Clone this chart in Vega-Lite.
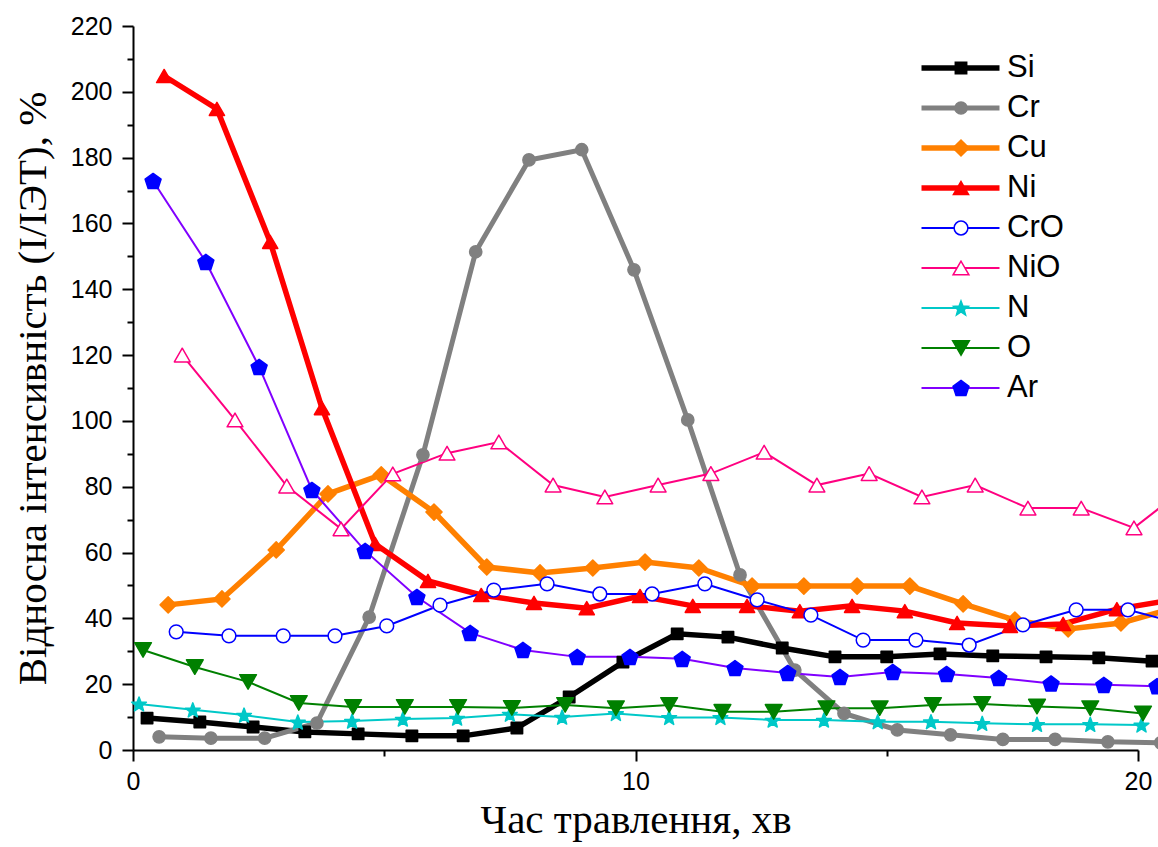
{
  "$schema": "https://vega.github.io/schema/vega-lite/v6.json",
  "width": 1005,
  "height": 724,
  "autosize": {"type": "none"},
  "padding": {"left": 133, "top": 26, "right": 20, "bottom": 97},
  "background": "white",
  "config": {
    "view": {"stroke": null},
    "font": "Liberation Sans",
    "axis": {
      "grid": false,
      "domainColor": "black",
      "domainWidth": 2,
      "tickColor": "black",
      "tickWidth": 2,
      "labelFont": "Liberation Sans",
      "labelFontSize": 25,
      "labelColor": "black",
      "titleFont": "Liberation Serif",
      "titleFontWeight": "normal",
      "titleColor": "black"
    },
    "legend": {
      "labelFont": "Liberation Sans",
      "labelFontSize": 31,
      "labelColor": "black",
      "padding": 0,
      "rowPadding": 8,
      "clipHeight": 29,
      "symbolStrokeWidth": 1.5
    }
  },
  "data": {
    "values": [
      {"series": "Si", "time": 0.28, "value": 9.7},
      {"series": "Si", "time": 1.33, "value": 8.5},
      {"series": "Si", "time": 2.39, "value": 7.0},
      {"series": "Si", "time": 3.42, "value": 5.5},
      {"series": "Si", "time": 4.48, "value": 4.9},
      {"series": "Si", "time": 5.55, "value": 4.3},
      {"series": "Si", "time": 6.57, "value": 4.3},
      {"series": "Si", "time": 7.64, "value": 6.7},
      {"series": "Si", "time": 8.68, "value": 16.1},
      {"series": "Si", "time": 9.75, "value": 26.7},
      {"series": "Si", "time": 10.83, "value": 35.3},
      {"series": "Si", "time": 11.84, "value": 34.3},
      {"series": "Si", "time": 12.92, "value": 31.0},
      {"series": "Si", "time": 13.97, "value": 28.3},
      {"series": "Si", "time": 15.0, "value": 28.3},
      {"series": "Si", "time": 16.06, "value": 29.2},
      {"series": "Si", "time": 17.11, "value": 28.6},
      {"series": "Si", "time": 18.17, "value": 28.3},
      {"series": "Si", "time": 19.22, "value": 28.0},
      {"series": "Si", "time": 20.28, "value": 27.0},

      {"series": "Cr", "time": 0.52, "value": 4.0},
      {"series": "Cr", "time": 1.55, "value": 3.6},
      {"series": "Cr", "time": 2.62, "value": 3.6},
      {"series": "Cr", "time": 3.66, "value": 8.2},
      {"series": "Cr", "time": 4.7, "value": 40.4},
      {"series": "Cr", "time": 5.77, "value": 89.7},
      {"series": "Cr", "time": 6.82, "value": 151.4},
      {"series": "Cr", "time": 7.88, "value": 179.3},
      {"series": "Cr", "time": 8.93, "value": 182.4},
      {"series": "Cr", "time": 9.97, "value": 145.9},
      {"series": "Cr", "time": 11.04, "value": 100.3},
      {"series": "Cr", "time": 12.08, "value": 53.2},
      {"series": "Cr", "time": 13.17, "value": 24.3},
      {"series": "Cr", "time": 14.15, "value": 11.1},
      {"series": "Cr", "time": 15.21, "value": 6.1},
      {"series": "Cr", "time": 16.27, "value": 4.6},
      {"series": "Cr", "time": 17.31, "value": 3.2},
      {"series": "Cr", "time": 18.35, "value": 3.2},
      {"series": "Cr", "time": 19.4, "value": 2.5},
      {"series": "Cr", "time": 20.45, "value": 2.2},

      {"series": "Cu", "time": 0.7, "value": 44.1},
      {"series": "Cu", "time": 1.77, "value": 45.9},
      {"series": "Cu", "time": 2.85, "value": 60.8},
      {"series": "Cu", "time": 3.88, "value": 77.8},
      {"series": "Cu", "time": 4.94, "value": 83.6},
      {"series": "Cu", "time": 5.99, "value": 72.3},
      {"series": "Cu", "time": 7.04, "value": 55.6},
      {"series": "Cu", "time": 8.1, "value": 53.8},
      {"series": "Cu", "time": 9.15, "value": 55.3},
      {"series": "Cu", "time": 10.19, "value": 57.1},
      {"series": "Cu", "time": 11.26, "value": 55.3},
      {"series": "Cu", "time": 12.32, "value": 49.8},
      {"series": "Cu", "time": 13.35, "value": 49.8},
      {"series": "Cu", "time": 14.41, "value": 49.8},
      {"series": "Cu", "time": 15.46, "value": 49.8},
      {"series": "Cu", "time": 16.52, "value": 44.4},
      {"series": "Cu", "time": 17.55, "value": 39.5},
      {"series": "Cu", "time": 18.61, "value": 36.8},
      {"series": "Cu", "time": 19.66, "value": 38.6},
      {"series": "Cu", "time": 20.72, "value": 43.1},

      {"series": "Ni", "time": 0.62, "value": 204.8},
      {"series": "Ni", "time": 1.67, "value": 194.8},
      {"series": "Ni", "time": 2.73, "value": 154.4},
      {"series": "Ni", "time": 3.76, "value": 103.9},
      {"series": "Ni", "time": 4.82, "value": 62.6},
      {"series": "Ni", "time": 5.87, "value": 51.4},
      {"series": "Ni", "time": 6.93, "value": 47.1},
      {"series": "Ni", "time": 7.98, "value": 44.7},
      {"series": "Ni", "time": 9.03, "value": 43.1},
      {"series": "Ni", "time": 10.09, "value": 46.8},
      {"series": "Ni", "time": 11.14, "value": 43.8},
      {"series": "Ni", "time": 12.22, "value": 43.8},
      {"series": "Ni", "time": 13.27, "value": 42.2},
      {"series": "Ni", "time": 14.31, "value": 43.8},
      {"series": "Ni", "time": 15.36, "value": 42.2},
      {"series": "Ni", "time": 16.4, "value": 38.6},
      {"series": "Ni", "time": 17.45, "value": 37.7},
      {"series": "Ni", "time": 18.51, "value": 38.3},
      {"series": "Ni", "time": 19.58, "value": 42.8},
      {"series": "Ni", "time": 20.64, "value": 45.5},

      {"series": "CrO", "time": 0.86, "value": 35.9},
      {"series": "CrO", "time": 1.91, "value": 34.7},
      {"series": "CrO", "time": 2.99, "value": 34.7},
      {"series": "CrO", "time": 4.02, "value": 34.7},
      {"series": "CrO", "time": 5.05, "value": 37.7},
      {"series": "CrO", "time": 6.11, "value": 44.0},
      {"series": "CrO", "time": 7.18, "value": 48.6},
      {"series": "CrO", "time": 8.24, "value": 50.5},
      {"series": "CrO", "time": 9.29, "value": 47.4},
      {"series": "CrO", "time": 10.33, "value": 47.4},
      {"series": "CrO", "time": 11.38, "value": 50.5},
      {"series": "CrO", "time": 12.42, "value": 45.6},
      {"series": "CrO", "time": 13.49, "value": 41.0},
      {"series": "CrO", "time": 14.53, "value": 33.4},
      {"series": "CrO", "time": 15.58, "value": 33.4},
      {"series": "CrO", "time": 16.64, "value": 31.9},
      {"series": "CrO", "time": 17.71, "value": 38.0},
      {"series": "CrO", "time": 18.77, "value": 42.6},
      {"series": "CrO", "time": 19.8, "value": 42.6},
      {"series": "CrO", "time": 20.86, "value": 38.3},

      {"series": "NiO", "time": 0.98, "value": 120.0},
      {"series": "NiO", "time": 2.03, "value": 100.3},
      {"series": "NiO", "time": 3.06, "value": 80.2},
      {"series": "NiO", "time": 4.14, "value": 67.2},
      {"series": "NiO", "time": 5.17, "value": 83.9},
      {"series": "NiO", "time": 6.25, "value": 90.2},
      {"series": "NiO", "time": 7.28, "value": 93.6},
      {"series": "NiO", "time": 8.36, "value": 80.5},
      {"series": "NiO", "time": 9.39, "value": 76.9},
      {"series": "NiO", "time": 10.45, "value": 80.5},
      {"series": "NiO", "time": 11.5, "value": 84.0},
      {"series": "NiO", "time": 12.56, "value": 90.5},
      {"series": "NiO", "time": 13.61, "value": 80.5},
      {"series": "NiO", "time": 14.65, "value": 84.0},
      {"series": "NiO", "time": 15.7, "value": 76.9},
      {"series": "NiO", "time": 16.76, "value": 80.5},
      {"series": "NiO", "time": 17.81, "value": 73.5},
      {"series": "NiO", "time": 18.87, "value": 73.5},
      {"series": "NiO", "time": 19.92, "value": 67.5},
      {"series": "NiO", "time": 20.97, "value": 80.0},

      {"series": "N", "time": 0.12, "value": 14.0},
      {"series": "N", "time": 1.19, "value": 12.2},
      {"series": "N", "time": 2.21, "value": 10.6},
      {"series": "N", "time": 3.28, "value": 8.5},
      {"series": "N", "time": 4.36, "value": 8.8},
      {"series": "N", "time": 5.37, "value": 9.4},
      {"series": "N", "time": 6.45, "value": 9.7},
      {"series": "N", "time": 7.5, "value": 10.9},
      {"series": "N", "time": 8.54, "value": 10.0},
      {"series": "N", "time": 9.61, "value": 11.1},
      {"series": "N", "time": 10.67, "value": 9.9},
      {"series": "N", "time": 11.69, "value": 9.9},
      {"series": "N", "time": 12.73, "value": 9.1},
      {"series": "N", "time": 13.75, "value": 9.1},
      {"series": "N", "time": 14.82, "value": 8.6},
      {"series": "N", "time": 15.88, "value": 8.6},
      {"series": "N", "time": 16.9, "value": 8.1},
      {"series": "N", "time": 17.99, "value": 7.8},
      {"series": "N", "time": 19.05, "value": 7.8},
      {"series": "N", "time": 20.07, "value": 7.6},

      {"series": "O", "time": 0.2, "value": 30.4},
      {"series": "O", "time": 1.23, "value": 25.2},
      {"series": "O", "time": 2.29, "value": 20.7},
      {"series": "O", "time": 3.3, "value": 14.3},
      {"series": "O", "time": 4.38, "value": 13.1},
      {"series": "O", "time": 5.41, "value": 13.1},
      {"series": "O", "time": 6.47, "value": 13.1},
      {"series": "O", "time": 7.54, "value": 12.8},
      {"series": "O", "time": 8.6, "value": 13.7},
      {"series": "O", "time": 9.61, "value": 12.7},
      {"series": "O", "time": 10.67, "value": 13.7},
      {"series": "O", "time": 11.73, "value": 11.6},
      {"series": "O", "time": 12.75, "value": 11.6},
      {"series": "O", "time": 13.8, "value": 12.7},
      {"series": "O", "time": 14.86, "value": 12.7},
      {"series": "O", "time": 15.92, "value": 13.7},
      {"series": "O", "time": 16.9, "value": 14.0},
      {"series": "O", "time": 17.99, "value": 13.2},
      {"series": "O", "time": 19.05, "value": 12.7},
      {"series": "O", "time": 20.1, "value": 11.1},

      {"series": "Ar", "time": 0.4, "value": 172.9},
      {"series": "Ar", "time": 1.45, "value": 148.3},
      {"series": "Ar", "time": 2.51, "value": 116.4},
      {"series": "Ar", "time": 3.56, "value": 79.0},
      {"series": "Ar", "time": 4.62, "value": 60.5},
      {"series": "Ar", "time": 5.65, "value": 46.5},
      {"series": "Ar", "time": 6.71, "value": 35.6},
      {"series": "Ar", "time": 7.76, "value": 30.4},
      {"series": "Ar", "time": 8.84, "value": 28.3},
      {"series": "Ar", "time": 9.89, "value": 28.3},
      {"series": "Ar", "time": 10.93, "value": 27.7},
      {"series": "Ar", "time": 11.98, "value": 24.9},
      {"series": "Ar", "time": 13.03, "value": 23.4},
      {"series": "Ar", "time": 14.07, "value": 22.2},
      {"series": "Ar", "time": 15.12, "value": 23.7},
      {"series": "Ar", "time": 16.19, "value": 23.1},
      {"series": "Ar", "time": 17.23, "value": 21.9},
      {"series": "Ar", "time": 18.27, "value": 20.2},
      {"series": "Ar", "time": 19.32, "value": 19.8},
      {"series": "Ar", "time": 20.38, "value": 19.4}
    ]
  },
  "layer": [
    {
      "mark": {"type": "line", "clip": false},
      "encoding": {
        "x": {
          "field": "time",
          "type": "quantitative",
          "scale": {"domain": [0, 20], "nice": false, "zero": false},
          "axis": {
            "orient": "bottom",
            "values": [0, 10, 20],
            "tickSize": 11,
            "labelPadding": 8,
            "labelFlush": false,
            "title": "Час травлення, хв",
            "titleFontSize": 41,
            "titlePadding": 6
          }
        },
        "y": {
          "field": "value",
          "type": "quantitative",
          "scale": {"domain": [0, 220], "nice": false, "zero": false},
          "axis": {
            "orient": "left",
            "values": [0, 20, 40, 60, 80, 100, 120, 140, 160, 180, 200, 220],
            "tickSize": 11,
            "labelPadding": 10,
            "labelFlush": false,
            "title": "Відносна інтенсивність (I/IЭТ), %",
            "titleFontSize": 41,
            "titlePadding": 16
          }
        },
        "stroke": {
          "field": "series",
          "type": "nominal",
          "scale": {
            "domain": ["Si", "Cr", "Cu", "Ni", "CrO", "NiO", "N", "O", "Ar"],
            "range": ["#000000", "#808080", "#ff8000", "#ff0000", "#0000ff", "#ff0080", "#00c8c8", "#008000", "#8000ff"]
          },
          "legend": {
            "orient": "none",
            "legendX": 785.5,
            "legendY": 27.5,
            "title": null,
            "symbolType": "stroke",
            "symbolSize": 6084,
            "labelOffset": 4.5
          }
        },
        "strokeWidth": {
          "field": "series",
          "type": "nominal",
          "scale": {
            "type": "ordinal",
            "domain": ["Si", "Cr", "Cu", "Ni", "CrO", "NiO", "N", "O", "Ar"],
            "range": [5.5, 5, 5.5, 5.5, 2, 2, 2, 2, 2]
          },
          "legend": {
            "orient": "none",
            "legendX": 785.5,
            "legendY": 27.5,
            "title": null,
            "symbolType": "stroke",
            "symbolSize": 6084,
            "labelOffset": 4.5
          }
        }
      }
    },
    {
      "mark": {"type": "point", "filled": true, "opacity": 1, "strokeWidth": 1.5, "strokeJoin": "round", "clip": false},
      "encoding": {
        "x": {
          "field": "time",
          "type": "quantitative",
          "axis": {
            "orient": "bottom",
            "values": [5, 15],
            "tickSize": 6,
            "labels": false,
            "domain": false,
            "title": null
          }
        },
        "y": {
          "field": "value",
          "type": "quantitative",
          "axis": {
            "orient": "left",
            "values": [10, 30, 50, 70, 90, 110, 130, 150, 170, 190, 210],
            "tickSize": 6,
            "labels": false,
            "domain": false,
            "title": null
          }
        },
        "shape": {
          "field": "series",
          "type": "nominal",
          "scale": {
            "domain": ["Si", "Cr", "Cu", "Ni", "CrO", "NiO", "N", "O", "Ar"],
            "range": [
              "square", "circle", "diamond", "triangle-up", "circle", "triangle-up",
              "M0,-0.905L0.247,-0.245L0.951,-0.214L0.399,0.225L0.588,0.904L0,0.515L-0.588,0.904L-0.399,0.225L-0.951,-0.214L-0.247,-0.245Z",
              "triangle-down",
              "M0,-0.905L0.951,-0.214L0.588,0.904L-0.588,0.904L-0.951,-0.214Z"
            ]
          },
          "legend": {"orient": "none", "legendX": 812.5, "legendY": 27.5, "title": null, "labelExpr": "''"}
        },
        "fill": {
          "field": "series",
          "type": "nominal",
          "scale": {
            "domain": ["Si", "Cr", "Cu", "Ni", "CrO", "NiO", "N", "O", "Ar"],
            "range": ["#000000", "#808080", "#ff8000", "#ff0000", "#ffffff", "#ffffff", "#00c8c8", "#008000", "#0000ff"]
          },
          "legend": {"orient": "none", "legendX": 812.5, "legendY": 27.5, "title": null, "labelExpr": "''"}
        },
        "stroke": {
          "field": "series",
          "type": "nominal",
          "scale": {
            "domain": ["Si", "Cr", "Cu", "Ni", "CrO", "NiO", "N", "O", "Ar"],
            "range": ["#000000", "#808080", "#ff8000", "#ff0000", "#0000ff", "#ff0080", "#00c8c8", "#008000", "#0000ff"]
          },
          "legend": {"orient": "none", "legendX": 812.5, "legendY": 27.5, "title": null, "labelExpr": "''"}
        },
        "size": {
          "field": "series",
          "type": "nominal",
          "scale": {
            "type": "ordinal",
            "domain": ["Si", "Cr", "Cu", "Ni", "CrO", "NiO", "N", "O", "Ar"],
            "range": [130, 150, 260, 230, 190, 250, 240, 280, 280]
          },
          "legend": {"orient": "none", "legendX": 812.5, "legendY": 27.5, "title": null, "labelExpr": "''"}
        }
      }
    }
  ],
  "resolve": {
    "scale": {"stroke": "independent", "strokeWidth": "independent", "fill": "independent", "shape": "independent", "size": "independent"},
    "axis": {"x": "independent", "y": "independent"}
  }
}
